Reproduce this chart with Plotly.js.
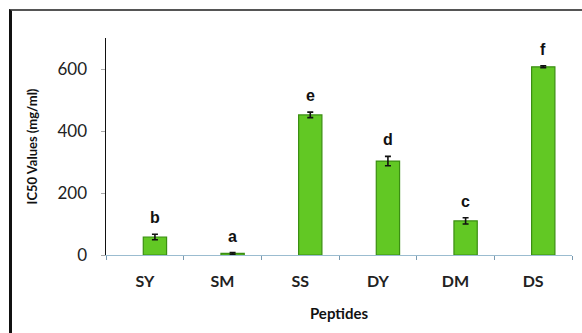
<!DOCTYPE html>
<html>
<head>
<meta charset="utf-8">
<script src="https://cdn.plot.ly/plotly-3.0.1.min.js"></script>
<style>
html,body{margin:0;padding:0;background:#fff;}
#wrap{position:relative;width:582px;height:333px;overflow:hidden;background:#fff;}
#chart{position:absolute;left:0;top:0;width:582px;height:333px;}
#frame{position:absolute;left:9px;top:9px;width:600px;height:400px;border-top:2px solid #555;border-left:3px solid #111;pointer-events:none;}
</style>
</head>
<body>
<div id="wrap"><div id="chart"></div><div id="frame"></div></div>
<script>
const categories = ["SY", "SM", "SS", "DY", "DM", "DS"];
const values = [58, 5, 452, 303, 110, 607];
const errors = [9, 3, 9, 15, 10, 3];
const letters = ["b", "a", "e", "d", "c", "f"];
const yTicks = [0, 200, 400, 600];

const trace = {
  type: "bar",
  x: categories,
  y: values,
  width: 0.3,
  offset: -0.02,
  marker: {color: "#62c824", line: {color: "#3b8e12", width: 1.2}},
  error_y: {type: "data", array: errors, visible: true, color: "#111", thickness: 1.6, width: 3},
  hoverinfo: "none"
};

const annotations = categories.map((c, i) => ({
  x: c, y: values[i] + errors[i], xref: "x", yref: "y",
  text: letters[i], showarrow: false, yanchor: "bottom",
  xshift: 10, yshift: 6,
  font: {family: "Liberation Sans, Arial, sans-serif", size: 16, color: "#111", weight: "bold"}
}));

const layout = {
  width: 582, height: 333,
  margin: {l: 106, r: 10, t: 38, b: 78, autoexpand: false},
  paper_bgcolor: "#fff", plot_bgcolor: "#fff",
  showlegend: false,
  bargap: 0.7,
  xaxis: {
    type: "category",
    showline: true, linecolor: "#9bbcd0", linewidth: 1,
    ticks: "outside", tickson: "boundaries", ticklen: 4, tickcolor: "#7a9ab0",
    ticklabelstandoff: 12,
    tickfont: {family: "Lato, Open Sans, sans-serif", size: 16, color: "#222", weight: "bold"},
    showgrid: false, zeroline: false, automargin: true,
    title: {text: "Peptides", standoff: 19, font: {family: "Lato, Open Sans, sans-serif", size: 15, color: "#111", weight: "bold"}}
  },
  yaxis: {
    range: [0, 700],
    tickvals: yTicks,
    ticktext: yTicks.map(String),
    showline: true, linecolor: "#111", linewidth: 1.5,
    ticks: "outside", ticklen: 4, tickcolor: "#aaa",
    ticklabelstandoff: 10,
    tickfont: {family: "Lato, Open Sans, sans-serif", size: 17, color: "#222"},
    showgrid: false, zeroline: false, automargin: true,
    title: {text: "IC50 Values (mg/ml)", standoff: 17, font: {family: "Lato, Open Sans, sans-serif", size: 13, color: "#111", weight: "bold"}}
  },
  annotations: annotations
};

Plotly.newPlot("chart", [trace], layout, {displayModeBar: false, staticPlot: true});
</script>
</body>
</html>
